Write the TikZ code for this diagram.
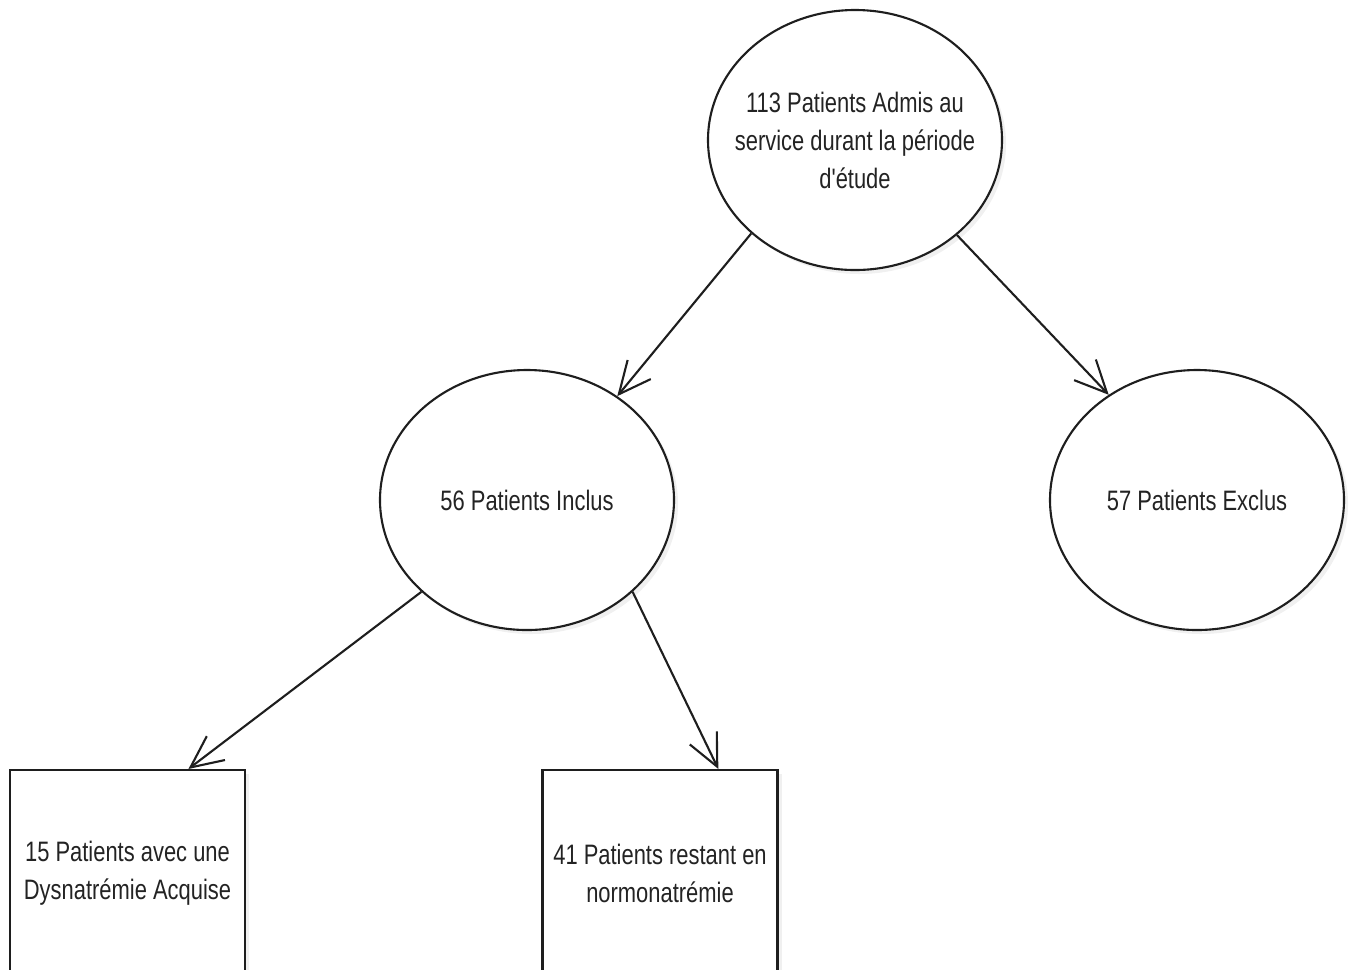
\documentclass[tikz,border=0pt]{standalone}
\usepackage{fontspec}
\setmainfont[FakeStretch=0.78,Ligatures=TeXOff]{Liberation Sans}
\usepackage{tikz}
\usetikzlibrary{arrows.meta,positioning,calc,shapes.geometric,shadows}
\definecolor{trait}{RGB}{30,30,30}
\definecolor{texte}{RGB}{35,35,35}

\begin{document}
\begin{tikzpicture}[
  bulle/.style={draw=trait,line width=0.6pt,ellipse,inner sep=0pt,minimum width=2.94cm,minimum height=2.6cm,fill=white,
    drop shadow={opacity=0.12,shadow xshift=0.04cm,shadow yshift=-0.04cm}},
  boite/.style={draw=trait,line width=0.6pt,rectangle,inner sep=0pt,minimum width=2.35cm,minimum height=2.02cm,fill=white,
    drop shadow={opacity=0.12,shadow xshift=0.04cm,shadow yshift=-0.04cm}},
  legende/.style={align=center,text=texte,font=\fontsize{8}{10.8}\selectfont},
  fleche/.style={draw=trait,line width=0.6pt,-{Straight Barb[length=0.32cm,width=0.3cm]}}
]
\useasboundingbox (0,0) rectangle (13.54,-9.69);
\clip (0,0) rectangle (13.54,-9.69);

% ellipses
\node[bulle] (admis) at (8.55,-1.40) {};
\node[legende] (admis-txt) at (admis) {113 Patients Admis au\\service durant la p\'eriode\\d'\'etude};
\node[bulle] (inclus) at (5.27,-5.00) {};
\node[legende] (inclus-txt) at (inclus) {56 Patients Inclus};
\node[bulle] (exclus) at (11.97,-5.00) {};
\node[legende] (exclus-txt) at (exclus) {57 Patients Exclus};

% boites du bas
\node[boite] (acquise) at (1.275,-8.71) {};
\node[legende] (acquise-txt) at ($(acquise)+(0,-0.02)$) {15 Patients avec une\\Dysnatr\'emie Acquise};
\node[boite] (normo) at (6.60,-8.71) {};
\node[legende] (normo-txt) at ($(normo)+(0,-0.02)$) {41 Patients restant en\\normonatr\'emie};

\coordinate (acquise-in) at ($(acquise.north west)!0.757!(acquise.north east)$);
\coordinate (normo-in) at ($(normo.north west)!0.746!(normo.north east)$);

% fleches
\draw[fleche] (admis.222.7) -- (inclus.49.1);
\draw[fleche] (admis.317.3) -- (exclus.130.8);
\draw[fleche] (inclus.221.9) -- (acquise-in);
\draw[fleche] (inclus.319.4) -- (normo-in);
\end{tikzpicture}
\end{document}
